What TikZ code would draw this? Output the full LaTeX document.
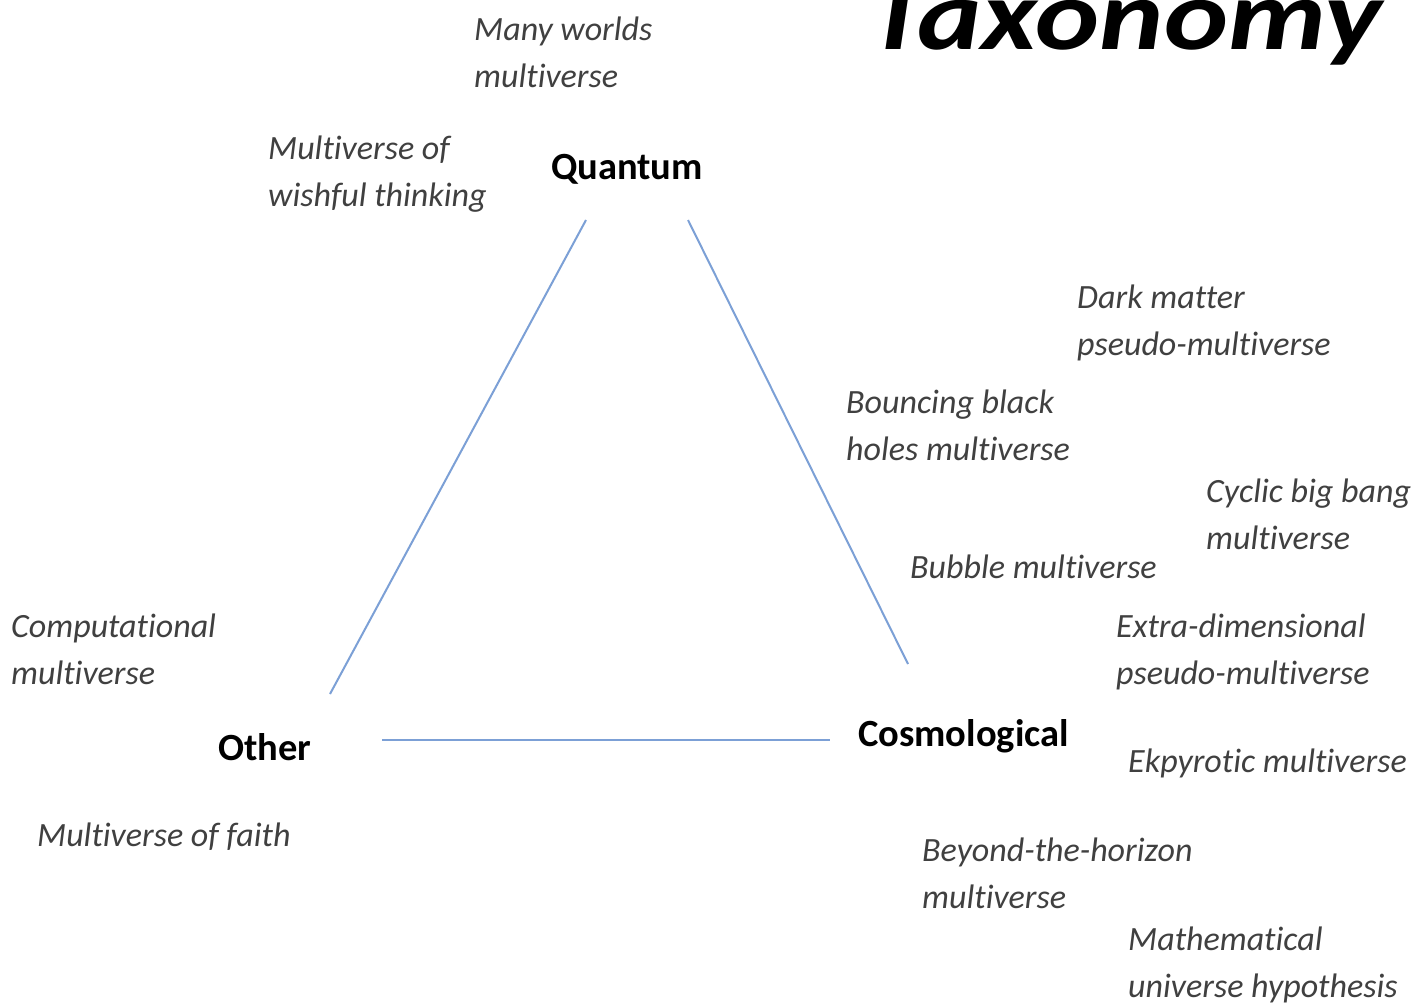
\documentclass[tikz,border=0pt]{standalone}
\usepackage{fontspec}
\setmainfont{Carlito}[Ligatures=NoCommon]
\begin{document}
\begin{tikzpicture}[x=1pt,y=-1pt,
  lbl/.style={anchor=base west,inner sep=0pt,align=left,text=black!75,
    font=\fontsize{34}{47}\selectfont\itshape},
  corner/.style={anchor=base west,inner sep=0pt,text=black,
    font=\fontsize{38.5}{44}\selectfont\bfseries},
  edge/.style={line width=2pt,draw={rgb,255:red,124;green,160;blue,214}}]
\useasboundingbox (0,0) rectangle (1414,1003);
\clip (0,0) rectangle (1414,1003);
\fill[white] (0,0) rectangle (1414,1003);
% title
\node[anchor=base west,inner sep=0pt,font=\fontsize{100}{110}\selectfont\bfseries\itshape] (title) at (866,50) {\scalebox{1.22}[1]{Taxonomy}};
% corners
\node[corner] (quantum) at (551,180) {Quantum};
\node[corner] (other) at (218,760) {Other};
\node[corner] (cosmo) at (858,746) {Cosmological};
% line ends
\coordinate (q1) at (586,220);
\coordinate (o1) at (330,694);
\coordinate (q2) at (688,220);
\coordinate (c1) at (908,664);
\coordinate (o2) at (382,740);
\coordinate (c2) at (830,740);
\draw[edge] (o1) -- (q1);
\draw[edge] (q2) -- (c1);
\draw[edge] (o2) -- (c2);
% labels (base anchor = last line baseline)
\node[lbl] (mw) at (474,88) {Many worlds\\multiverse};
\node[lbl] (wish) at (268,207) {Multiverse of\\wishful thinking};
\node[lbl] (dark) at (1077,355) {Dark matter\\pseudo-multiverse};
\node[lbl] (bounce) at (846,460) {Bouncing black\\holes multiverse};
\node[lbl] (cyclic) at (1206,549) {Cyclic big bang\\multiverse};
\node[lbl] (bubble) at (910,578) {Bubble multiverse};
\node[lbl] (comp) at (11,684) {Computational\\multiverse};
\node[lbl] (extra) at (1116,684) {Extra-dimensional\\pseudo-multiverse};
\node[lbl] (ekp) at (1128,772) {Ekpyrotic multiverse};
\node[lbl] (faith) at (37,846) {Multiverse of faith};
\node[lbl] (beyond) at (922,908) {Beyond-the-horizon\\multiverse};
\node[lbl] (math) at (1128,997) {Mathematical\\universe hypothesis};
\end{tikzpicture}
\end{document}
